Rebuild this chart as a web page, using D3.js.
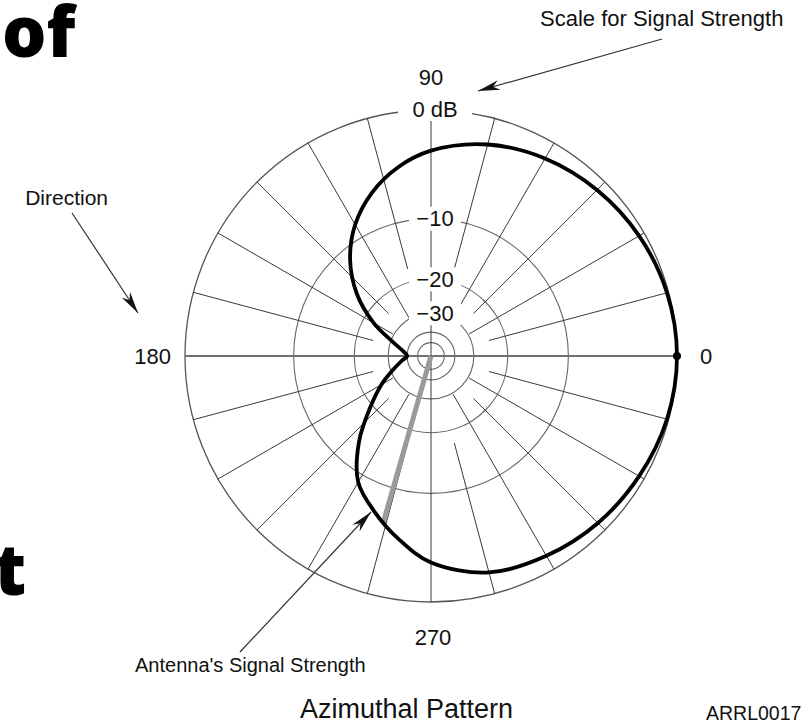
<!DOCTYPE html>
<html><head><meta charset="utf-8">
<script src="https://cdn.jsdelivr.net/npm/d3@7"></script>
<style>body{margin:0;background:#fff}svg{display:block}</style>
</head><body><svg id="c" width="812" height="723"></svg>
<script>
// ---------- data ----------
const ringDb = [0, -10, -20, -30, -40, -50];
const ringLabelDb = [0, -10, -20, -30];
const ringLabels = ["0 dB", "\u221210", "\u221220", "\u221230"];
const spokeAngles = d3.range(0, 360, 15);
const axisLabelAngles = [0, 90, 180, 270];
const axisLabels = ["0", "90", "180", "270"];
const patternAngles = [0, 15, 30, 45, 60, 75, 90, 100, 110, 120, 130, 140, 150, 160, 170, 180,
  190, 200, 210, 220, 230, 240, 250, 260, 270, 285, 300, 315, 330, 345];
const patternDb = [0, -0.12, -0.4, -0.8, -1.3, -2.0, -3.1, -4.3, -6.0, -8.3, -11.5, -16, -22.5, -31, -37, -40,
  -36, -31, -25, -19.5, -13.5, -9, -6.8, -4.8, -3.0, -1.6, -1.1, -0.7, -0.4, -0.12];
const pointerAngle = 254, pointerDb = -6;

// ---------- layout ----------
const svg = d3.select("#c");
const cx = 431, cy = 356, R = 246;
const arrl = db => Math.pow(0.89, -db / 2);   // ARRL log-periodic scale
const r = d3.scaleLinear().domain([0, 1]).range([0, R]);
const rad = a => a * Math.PI / 180;
const px = (a, rr) => cx + rr * Math.cos(rad(a));
const py = (a, rr) => cy - rr * Math.sin(rad(a));
const FONT = "'Liberation Sans', Arial, sans-serif";

// big cropped background words
svg.append("text").attr("x", 2).attr("y", 57).text("of")
  .attr("font-family", "'Open Sans', sans-serif").attr("font-weight", 800).attr("font-size", 70).attr("fill", "#000");
svg.append("text").attr("x", -6).attr("y", 595).text("t")
  .attr("font-family", "'Open Sans', sans-serif").attr("font-weight", 800).attr("font-size", 70).attr("fill", "#000");

const g = svg.append("g");

// rings
g.selectAll("circle.ring").data(ringDb).join("circle")
  .attr("cx", cx).attr("cy", cy).attr("r", d => r(arrl(d)))
  .attr("fill", "none").attr("stroke", d => d === 0 ? "#555" : "#666").attr("stroke-width", d => d === 0 ? 1.3 : 1.1);

// spokes
function innerR(a) {
  if (a % 90 === 0) return 0;
  if (a % 30 === 0) return 44;
  const m = a % 180;
  if (m === 75 || m === 105) return 90;
  return 60;
}
g.selectAll("line.spoke").data(spokeAngles).join("line")
  .attr("x1", d => px(d, innerR(d))).attr("y1", d => py(d, innerR(d)))
  .attr("x2", d => px(d, R)).attr("y2", d => py(d, R))
  .attr("stroke", d => (d % 180 === 0) ? "#707070" : "#3a3a3a")
  .attr("stroke-width", d => (d % 180 === 0) ? 1.8 : 1);

// ring labels with white boxes
const rl = g.selectAll("g.rl").data(ringLabelDb).join("g")
  .attr("transform", d => `translate(${cx + 4},${d === 0 ? cy - r(arrl(d)) - 1 : cy - r(arrl(d))})`);
rl.append("rect").attr("x", (d, i) => i === 0 ? -37 : -26).attr("width", (d, i) => i === 0 ? 74 : 52)
  .attr("y", -12).attr("height", 24).attr("fill", "#fff");
rl.append("text").text((d, i) => ringLabels[i]).attr("text-anchor", "middle").attr("y", 7.8)
  .attr("font-family", FONT).attr("font-size", 22).attr("fill", "#111");

// axis labels
const axPos = {0: [706, 364, "middle"], 90: [431, 85, "middle"], 180: [171, 364, "end"], 270: [433, 645, "middle"]};
svg.selectAll("text.ax").data(axisLabelAngles).join("text")
  .attr("x", d => axPos[d][0]).attr("y", d => axPos[d][1]).attr("text-anchor", d => axPos[d][2])
  .text((d, i) => axisLabels[i])
  .attr("font-family", FONT).attr("font-size", 22).attr("fill", "#111");

// pointer (antenna's signal strength)
svg.append("line").attr("x1", cx).attr("y1", cy)
  .attr("x2", px(pointerAngle, r(arrl(pointerDb)))).attr("y2", py(pointerAngle, r(arrl(pointerDb))))
  .attr("stroke", "#9a9a9a").attr("stroke-width", 5);

// pattern
const pts = patternAngles.map((a, i) => ({a, db: patternDb[i]}));
const lineR = d3.lineRadial().angle(d => rad(90 - d.a)).radius(d => r(arrl(d.db)))
  .curve(d3.curveCatmullRomClosed.alpha(0.5));
svg.append("path").attr("transform", `translate(${cx},${cy})`).attr("d", lineR(pts))
  .attr("fill", "none").attr("stroke", "#000").attr("stroke-width", 3.8).attr("stroke-linejoin", "round");
svg.append("circle").attr("cx", px(0, r(arrl(patternDb[0])))).attr("cy", cy).attr("r", 4).attr("fill", "#000");

// annotation arrows
function arrow(x1, y1, x2, y2) {
  svg.append("line").attr("x1", x1).attr("y1", y1).attr("x2", x2).attr("y2", y2)
    .attr("stroke", "#333").attr("stroke-width", 1.2);
  const ang = Math.atan2(y2 - y1, x2 - x1), L = 22, W = 5;
  const bx = x2 - L * Math.cos(ang), by = y2 - L * Math.sin(ang);
  const nx = -Math.sin(ang), ny = Math.cos(ang);
  const mx = x2 - 0.7 * L * Math.cos(ang), my = y2 - 0.7 * L * Math.sin(ang);
  svg.append("path").attr("d",
    `M${x2},${y2}L${bx + nx * W},${by + ny * W}L${mx},${my}L${bx - nx * W},${by - ny * W}Z`)
    .attr("fill", "#111");
}
arrow(662, 39, 478, 91);
arrow(72, 213, 138, 313);
arrow(240, 652, 371, 512);

// annotation texts
const ann = [
  ["Scale for Signal Strength", 540, 26, 22, "start"],
  ["Direction", 108, 205, 21, "end"],
  ["Antenna's Signal Strength", 135, 672, 20, "start"],
  ["Azimuthal Pattern", 300, 718, 27, "start"],
  ["ARRL0017", 706, 720, 19.5, "start"]
];
svg.selectAll("text.ann").data(ann).join("text")
  .attr("x", d => d[1]).attr("y", d => d[2]).attr("font-size", d => d[3]).attr("text-anchor", d => d[4])
  .attr("font-family", FONT).attr("fill", "#111").text(d => d[0]);
</script></body></html>
